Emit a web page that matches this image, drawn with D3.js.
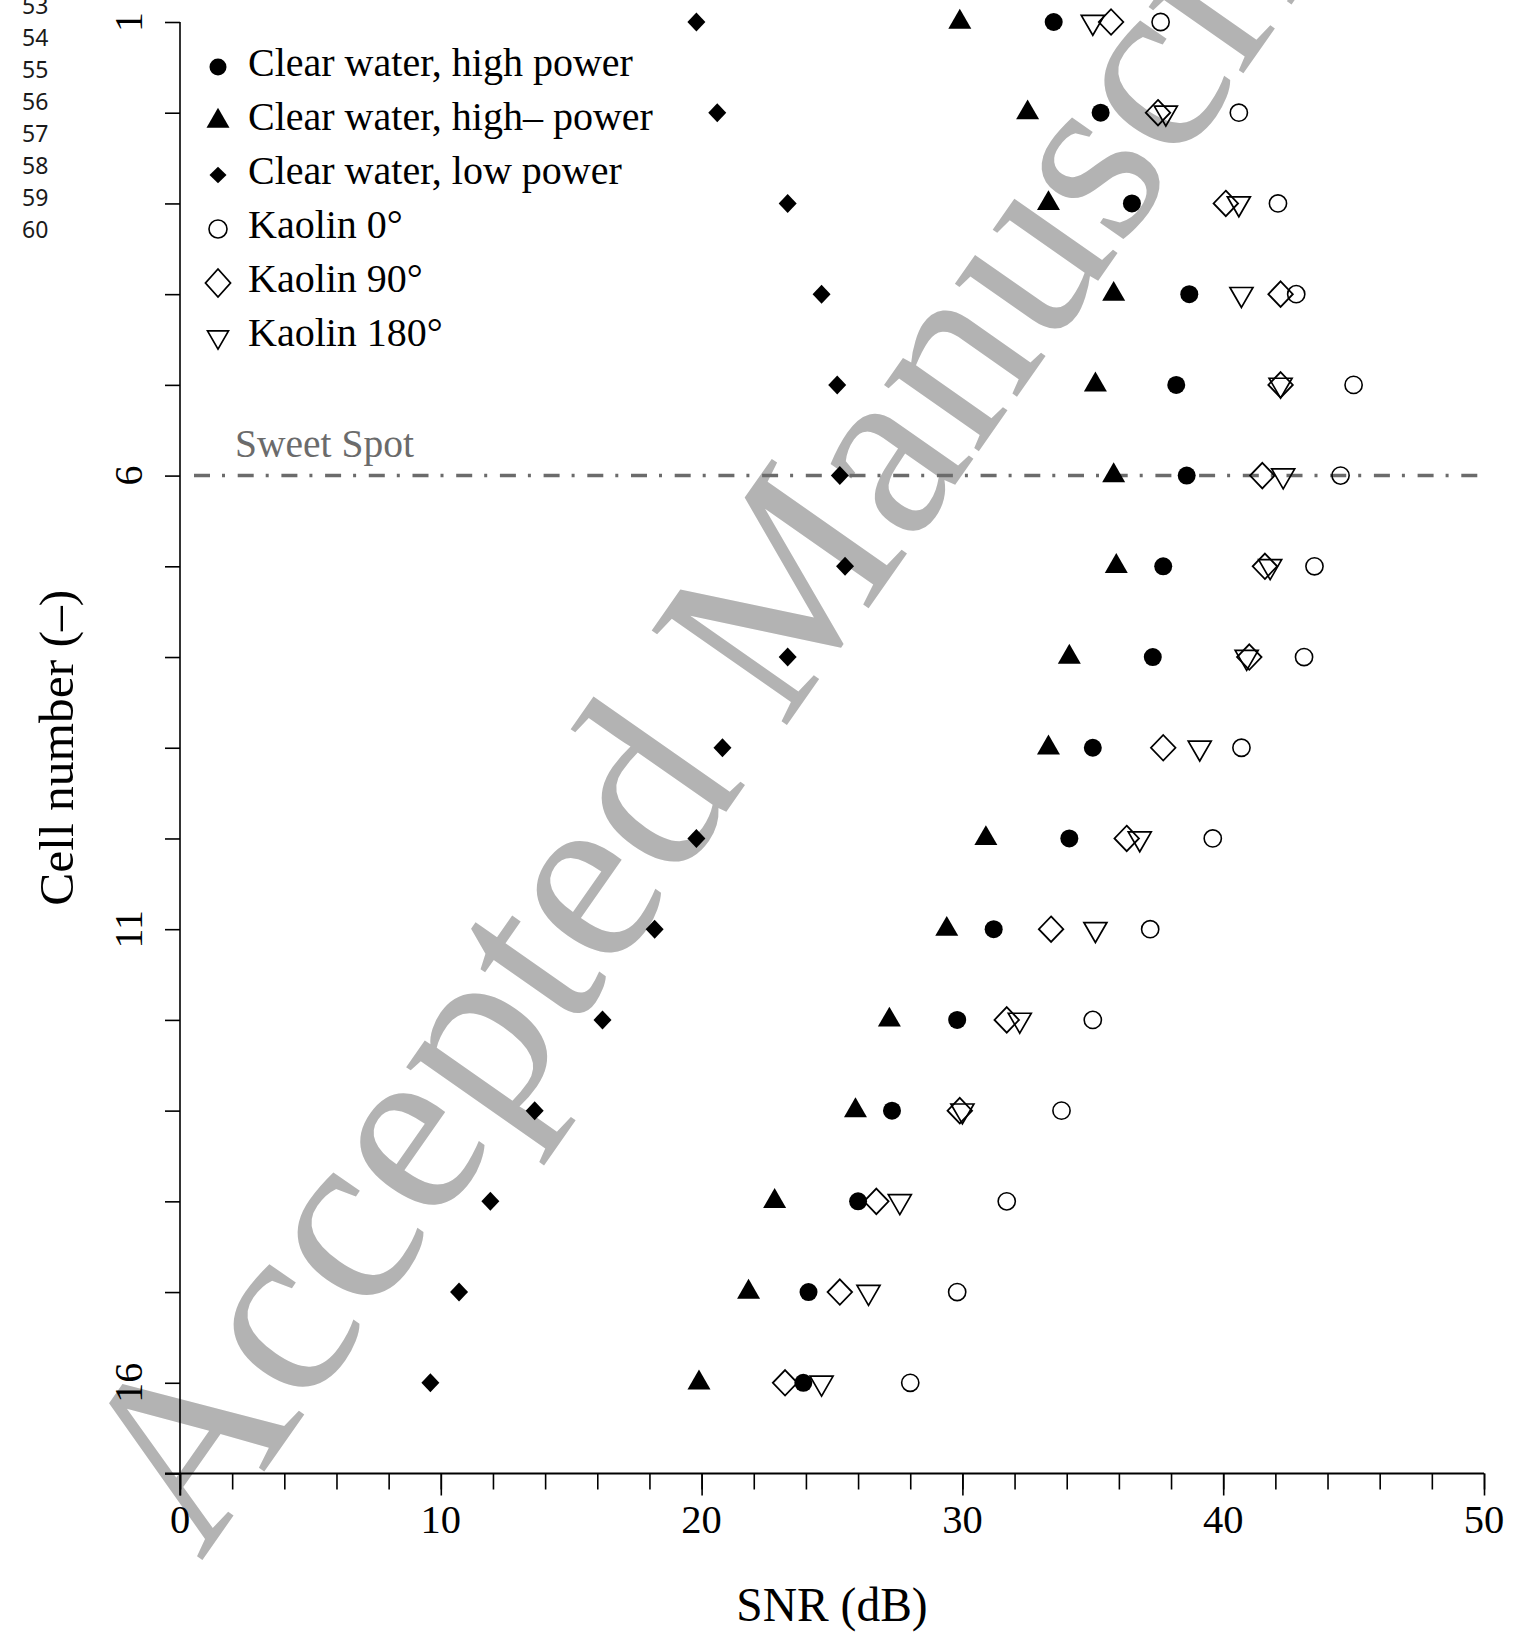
<!DOCTYPE html>
<html>
<head>
<meta charset="utf-8">
<script src="https://cdn.jsdelivr.net/npm/d3@7"></script>
<style>
  html, body { margin: 0; padding: 0; background: #fff; }
  svg { display: block; }
</style>
</head>
<body>
<script>
// ---------------- data ----------------
const cells = [1, 2, 3, 4, 5, 6, 7, 8, 9, 10, 11, 12, 13, 14, 15, 16];
const clearHigh      = [33.5, 35.3, 36.5, 38.7, 38.2, 38.6, 37.7, 37.3, 35.0, 34.1, 31.2, 29.8, 27.3, 26.0, 24.1, 23.9];
const clearHighMinus = [29.9, 32.5, 33.3, 35.8, 35.1, 35.8, 35.9, 34.1, 33.3, 30.9, 29.4, 27.2, 25.9, 22.8, 21.8, 19.9];
const clearLow       = [19.8, 20.6, 23.3, 24.6, 25.2, 25.3, 25.5, 23.3, 20.8, 19.8, 18.2, 16.2, 13.6, 11.9, 10.7, 9.6];
const kaolin0        = [37.6, 40.6, 42.1, 42.8, 45.0, 44.5, 43.5, 43.1, 40.7, 39.6, 37.2, 35.0, 33.8, 31.7, 29.8, 28.0];
const kaolin90       = [35.7, 37.5, 40.1, 42.2, 42.2, 41.5, 41.6, 41.0, 37.7, 36.3, 33.4, 31.7, 29.9, 26.7, 25.3, 23.2];
const kaolin180      = [35.0, 37.8, 40.6, 40.7, 42.2, 42.3, 41.8, 40.9, 39.1, 36.8, 35.1, 32.2, 30.0, 27.6, 26.4, 24.6];
const seriesNames = ["Clear water, high power", "Clear water, high\u2013 power", "Clear water, low power",
                     "Kaolin 0\u00b0", "Kaolin 90\u00b0", "Kaolin 180\u00b0"];
const xTickLabels = [0, 10, 20, 30, 40, 50];
const xMinorTicks = d3.range(0, 51, 2);
const yTickLabels = [1, 6, 11, 16];
const yTicks = d3.range(1, 18);
const sweetSpotCell = 6;
const sweetSpotLabel = "Sweet Spot";
const lineNumbers = [53, 54, 55, 56, 57, 58, 59, 60];
const xTitle = "SNR (dB)";
const yTitle = "Cell number (\u2013)";
const watermark = "Accepted Manuscript";

// ---------------- setup ----------------
const W = 1523, H = 1636;
const svg = d3.select("body").append("svg").attr("width", W).attr("height", H)
  .style("font-family", "'Liberation Serif', 'Times New Roman', serif");

const x = d3.scaleLinear().domain([0, 50]).range([180, 1484]);
const y = d3.scaleLinear().domain([1, 17]).range([22, 1473.5]);

// watermark (behind everything)
svg.append("text")
  .attr("transform", "translate(201,1562) rotate(-55)")
  .attr("font-size", 252)
  .attr("fill", "#b3b3b3")
  .text(watermark);

// line numbers
svg.append("g").selectAll("text").data(lineNumbers).join("text")
  .attr("x", 22).attr("y", (d, i) => 14 + 32 * i)
  .attr("font-family", "'Noto Sans', 'Open Sans', sans-serif")
  .attr("font-size", 23).attr("fill", "#1a1a1a")
  .text(d => d);

// ---------------- axes ----------------
// x axis minor ticks
const gx = svg.append("g").attr("transform", `translate(0,${y(17)})`);
gx.call(d3.axisBottom(x).tickValues(xMinorTicks).tickSize(16).tickSizeOuter(0).tickFormat(""))
  .call(g => g.select(".domain").remove())
  .call(g => g.selectAll(".tick line").attr("stroke", "#000").attr("stroke-width", 1.6));
// x axis major ticks
const gx2 = svg.append("g").attr("transform", `translate(0,${y(17)})`);
gx2.call(d3.axisBottom(x).tickValues(xTickLabels).tickSize(22).tickSizeOuter(0).tickFormat(""))
  .call(g => g.select(".domain").remove())
  .call(g => g.selectAll(".tick line").attr("stroke", "#000").attr("stroke-width", 1.6));
// x tick labels
svg.append("g").selectAll("text").data(xTickLabels).join("text")
  .attr("x", d => x(d)).attr("y", 1533)
  .attr("text-anchor", "middle").attr("font-size", 40.5).attr("fill", "#000")
  .text(d => d);

// y axis ticks
const gy = svg.append("g").attr("transform", `translate(${x(0)},0)`);
gy.call(d3.axisLeft(y).tickValues(yTicks).tickSize(15).tickSizeOuter(0).tickFormat(""))
  .call(g => g.select(".domain").remove())
  .call(g => g.selectAll(".tick line").attr("stroke", "#000").attr("stroke-width", 1.6));
// y spine
svg.append("line")
  .attr("x1", x(0)).attr("x2", x(0)).attr("y1", y(1)).attr("y2", y(17) + 22)
  .attr("stroke", "#000").attr("stroke-width", 1.6);
// x spine
svg.append("line")
  .attr("x1", x(0) - 15).attr("x2", x(50)).attr("y1", y(17)).attr("y2", y(17))
  .attr("stroke", "#000").attr("stroke-width", 2.2);

// y tick labels
svg.append("g").selectAll("text").data(yTickLabels).join("text")
  .attr("transform", d => `translate(142,${y(d)}) rotate(-90)`)
  .attr("text-anchor", "middle").attr("font-size", 40).attr("fill", "#000")
  .text(d => d);

// axis titles
svg.append("text")
  .attr("x", (x(0) + x(50)) / 2).attr("y", 1621)
  .attr("text-anchor", "middle").attr("font-size", 47.5).attr("fill", "#000")
  .text(xTitle);
svg.append("text")
  .attr("transform", `translate(73,${(y(1) + y(17)) / 2}) rotate(-90)`)
  .attr("text-anchor", "middle").attr("font-size", 49.5).attr("fill", "#000")
  .text(yTitle);

// ---------------- sweet spot ----------------
svg.append("line")
  .attr("x1", x(0) + 14).attr("x2", x(50)).attr("y1", y(sweetSpotCell)).attr("y2", y(sweetSpotCell))
  .attr("stroke", "#6b6b6b").attr("stroke-width", 3.5)
  .attr("stroke-dasharray", "16,12,3,12.7");
svg.append("text")
  .attr("x", 235).attr("y", y(sweetSpotCell) - 18.5)
  .attr("font-size", 39.5).attr("fill", "#6b6b6b")
  .text(sweetSpotLabel);

// ---------------- symbols ----------------
function circlePath(r) {
  return `M${r},0A${r},${r} 0 1,1 ${-r},0A${r},${r} 0 1,1 ${r},0Z`;
}
function triUp(s) { // centred at centroid
  const h = s * Math.sqrt(3) / 2;
  return `M0,${-2 * h / 3}L${s / 2},${h / 3}L${-s / 2},${h / 3}Z`;
}
function triDown(s) {
  const h = s * Math.sqrt(3) / 2;
  return `M0,${2 * h / 3}L${s / 2},${-h / 3}L${-s / 2},${-h / 3}Z`;
}
function diamond(w, h) {
  return `M0,${-h / 2}L${w / 2},0L0,${h / 2}L${-w / 2},0Z`;
}

const styles = [
  { path: circlePath(9),   fill: "#000", stroke: "none", sw: 0 },
  { path: triUp(23),       fill: "#000", stroke: "none", sw: 0 },
  { path: diamond(18, 19), fill: "#000", stroke: "none", sw: 0 },
  { path: circlePath(8.6), fill: "none", stroke: "#000", sw: 1.6 },
  { path: diamond(24.5, 25.5), fill: "none", stroke: "#000", sw: 1.8 },
  { path: triDown(23),     fill: "none", stroke: "#000", sw: 1.7 }
];
const legendStyles = [
  { path: circlePath(8.5), fill: "#000", stroke: "none", sw: 0 },
  { path: triUp(23),       fill: "#000", stroke: "none", sw: 0 },
  { path: diamond(17, 16.5), fill: "#000", stroke: "none", sw: 0 },
  { path: circlePath(9),   fill: "none", stroke: "#000", sw: 1.6 },
  { path: diamond(25, 28), fill: "none", stroke: "#000", sw: 1.8 },
  { path: triDown(21),     fill: "none", stroke: "#000", sw: 1.7 }
];

const allSeries = [clearHigh, clearHighMinus, clearLow, kaolin0, kaolin90, kaolin180];
const drawOrder = [3, 4, 5, 0, 1, 2];

drawOrder.forEach(si => {
  const st = styles[si];
  svg.append("g").selectAll("path").data(cells).join("path")
    .attr("transform", (c, i) => `translate(${x(allSeries[si][i])},${y(c)})`)
    .attr("d", st.path)
    .attr("fill", st.fill)
    .attr("stroke", st.stroke)
    .attr("stroke-width", st.sw);
});

// ---------------- legend ----------------
const legend = svg.append("g");
seriesNames.forEach((name, i) => {
  const st = legendStyles[i];
  legend.append("path")
    .attr("transform", `translate(218,${67 + 54 * i})`)
    .attr("d", st.path).attr("fill", st.fill).attr("stroke", st.stroke).attr("stroke-width", st.sw);
  legend.append("text")
    .attr("x", 248).attr("y", 76 + 54 * i)
    .attr("font-size", 40).attr("fill", "#000")
    .text(name);
});
</script>
</body>
</html>
